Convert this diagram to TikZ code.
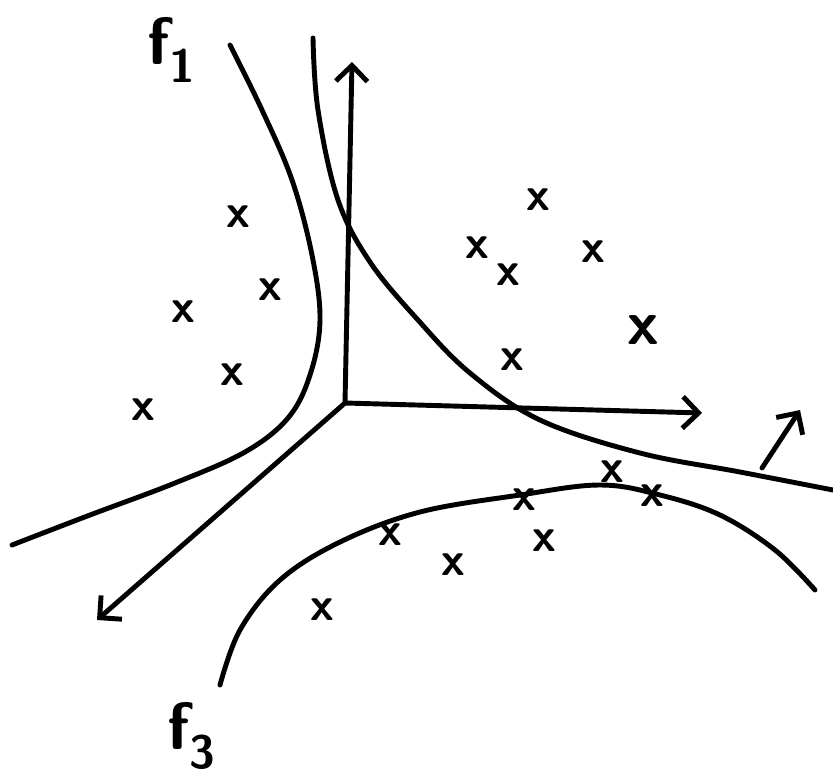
\documentclass[tikz,border=0pt]{standalone}
\usepackage{tikz}
\usetikzlibrary{arrows.meta}
\tikzset{
  pen/.style      = {line width=2.8pt, line cap=round, line join=round},
  axis/.style     = {pen, -{Straight Barb[length=9pt, width=18pt, line width=2.8pt]}},
  boundary/.style = {pen},
  sample/.style   = {inner sep=0pt, font=\fontsize{27}{27}\sffamily\bfseries},
  flabel/.style   = {inner sep=0pt, font=\fontsize{38}{38}\sffamily\bfseries},
}

\begin{document}
\begin{tikzpicture}[x=0.02cm, y=-0.02cm]
  \useasboundingbox (0,0) rectangle (833,782);

  % labels of the boundaries
  \node[flabel] (f1) at (172,50) {f\textsubscript{1}};
  \node[flabel] (f3) at (192,736) {f\textsubscript{3}};

  % decision boundaries
  \draw[boundary] plot[smooth, tension=0.6] coordinates {
    (230,45) (262,110) (292,180) (312,255) (320,320) (310,375)
    (288,418) (245,452) (175,483) (90,515) (12,545)};
  \draw[boundary] plot[smooth, tension=0.6] coordinates {
    (313,38) (318,110) (338,200) (370,262) (418,320) (470,373)
    (540,420) (640,453) (740,472) (833,490)};
  \draw[boundary] plot[smooth, tension=0.6] coordinates {
    (220,685) (240,630) (280,580) (340,542) (420,512) (520,495)
    (600,485) (660,495) (720,515) (775,550) (815,590)};

  % axes
  \coordinate (O) at (345,403);
  \coordinate (up) at (352,62);
  \coordinate (right) at (702,413);
  \coordinate (down) at (97,620);
  \draw[axis] (O) -- (up);
  \draw[axis] (O) -- (right);
  \draw[axis] (O) -- (down);

  % small arrow
  \coordinate (tail) at (762,468);
  \coordinate (head) at (800,410);
  \draw[axis] (tail) -- (head);

  % samples, left class
  \foreach \p [count=\i] in {(238,217), (270,290), (183,312), (232,375), (143,410)}
    \node[sample] (a\i) at \p {x};
  % samples, upper right class
  \foreach \p [count=\i] in {(538,200), (477,248), (508,275), (593,252), (512,360)}
    \node[sample] (b\i) at \p {x};
  \node[sample, font=\fontsize{36}{36}\sffamily\bfseries] (b6) at (643,330) {x};
  % samples, lower class
  \foreach \p [count=\i] in {(322,610), (390,535), (453,565), (524,500),
                             (544,541), (612,472), (652,496)}
    \node[sample] (c\i) at \p {x};

\end{tikzpicture}
\end{document}
